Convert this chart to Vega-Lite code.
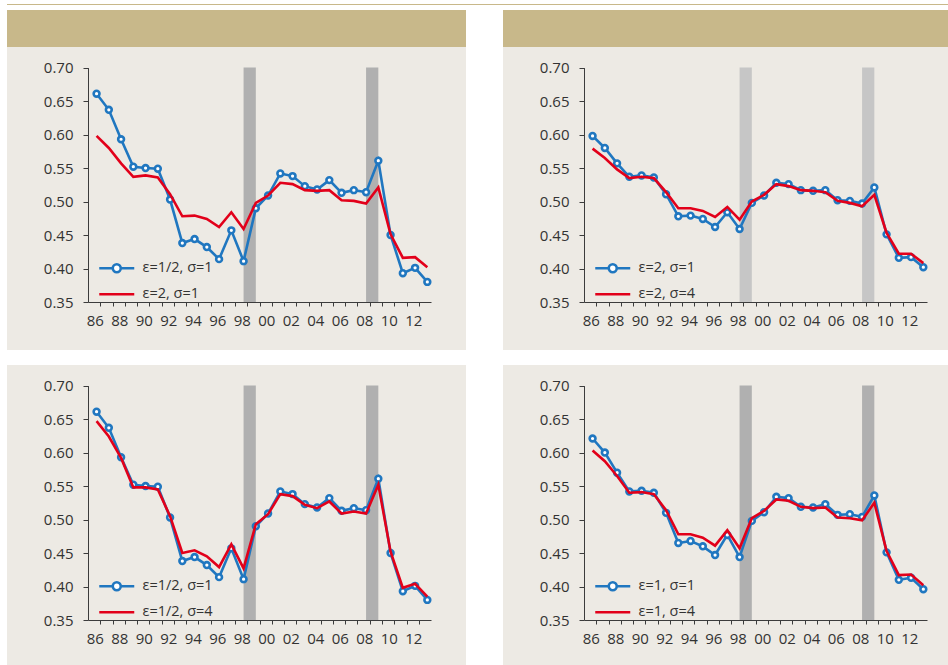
{
  "$schema": "https://vega.github.io/schema/vega-lite/v6.json",
  "background": "white",
  "padding": {"left": 7, "top": 4, "right": 0, "bottom": 0},
  "config": {
    "view": {"stroke": null},
    "font": "Open Sans",
    "axis": {"labelFont": "Open Sans", "labelFontSize": 15, "labelColor": "#333333", "domainColor": "#3c3c3c", "tickColor": "#3c3c3c", "domainWidth": 1, "tickWidth": 1, "grid": false, "title": null},
    "legend": {"labelFont": "Open Sans", "labelFontSize": 14.5, "labelColor": "#333333"}
  },
  "resolve": {"scale": {"color": "independent"}, "legend": {"color": "independent"}},
  "datasets": {
    "rec": [{"s": 1998, "e": 1999}, {"s": 2008, "e": 2009}],
    "p1": [
      {"t":1986,"a":0.661,"b":0.598},{"t":1987,"a":0.637,"b":0.580},{"t":1988,"a":0.593,"b":0.557},{"t":1989,"a":0.552,"b":0.537},
      {"t":1990,"a":0.550,"b":0.539},{"t":1991,"a":0.549,"b":0.536},{"t":1992,"a":0.503,"b":0.511},{"t":1993,"a":0.438,"b":0.478},
      {"t":1994,"a":0.444,"b":0.479},{"t":1995,"a":0.432,"b":0.474},{"t":1996,"a":0.414,"b":0.462},{"t":1997,"a":0.457,"b":0.484},
      {"t":1998,"a":0.411,"b":0.459},{"t":1999,"a":0.490,"b":0.498},{"t":2000,"a":0.509,"b":0.509},{"t":2001,"a":0.542,"b":0.528},
      {"t":2002,"a":0.538,"b":0.526},{"t":2003,"a":0.523,"b":0.517},{"t":2004,"a":0.518,"b":0.516},{"t":2005,"a":0.532,"b":0.517},
      {"t":2006,"a":0.513,"b":0.502},{"t":2007,"a":0.517,"b":0.501},{"t":2008,"a":0.514,"b":0.497},{"t":2009,"a":0.561,"b":0.521},
      {"t":2010,"a":0.450,"b":0.451},{"t":2011,"a":0.393,"b":0.416},{"t":2012,"a":0.401,"b":0.417},{"t":2013,"a":0.380,"b":0.402}
    ],
    "p2": [
      {"t":1986,"a":0.598,"b":0.579},{"t":1987,"a":0.580,"b":0.565},{"t":1988,"a":0.557,"b":0.548},{"t":1989,"a":0.537,"b":0.535},
      {"t":1990,"a":0.539,"b":0.537},{"t":1991,"a":0.536,"b":0.535},{"t":1992,"a":0.511,"b":0.514},{"t":1993,"a":0.478,"b":0.490},
      {"t":1994,"a":0.479,"b":0.490},{"t":1995,"a":0.474,"b":0.486},{"t":1996,"a":0.462,"b":0.477},{"t":1997,"a":0.484,"b":0.492},
      {"t":1998,"a":0.459,"b":0.473},{"t":1999,"a":0.498,"b":0.500},{"t":2000,"a":0.509,"b":0.510},{"t":2001,"a":0.528,"b":0.526},
      {"t":2002,"a":0.526,"b":0.523},{"t":2003,"a":0.517,"b":0.517},{"t":2004,"a":0.516,"b":0.516},{"t":2005,"a":0.517,"b":0.514},
      {"t":2006,"a":0.502,"b":0.501},{"t":2007,"a":0.501,"b":0.498},{"t":2008,"a":0.497,"b":0.493},{"t":2009,"a":0.521,"b":0.510},
      {"t":2010,"a":0.451,"b":0.453},{"t":2011,"a":0.416,"b":0.422},{"t":2012,"a":0.417,"b":0.422},{"t":2013,"a":0.402,"b":0.408}
    ],
    "p3": [
      {"t":1986,"a":0.661,"b":0.647},{"t":1987,"a":0.637,"b":0.624},{"t":1988,"a":0.593,"b":0.592},{"t":1989,"a":0.552,"b":0.548},
      {"t":1990,"a":0.550,"b":0.548},{"t":1991,"a":0.549,"b":0.545},{"t":1992,"a":0.503,"b":0.505},{"t":1993,"a":0.438,"b":0.450},
      {"t":1994,"a":0.444,"b":0.454},{"t":1995,"a":0.432,"b":0.445},{"t":1996,"a":0.414,"b":0.429},{"t":1997,"a":0.457,"b":0.463},
      {"t":1998,"a":0.411,"b":0.427},{"t":1999,"a":0.490,"b":0.493},{"t":2000,"a":0.509,"b":0.508},{"t":2001,"a":0.542,"b":0.538},
      {"t":2002,"a":0.538,"b":0.535},{"t":2003,"a":0.523,"b":0.522},{"t":2004,"a":0.518,"b":0.517},{"t":2005,"a":0.532,"b":0.527},
      {"t":2006,"a":0.513,"b":0.509},{"t":2007,"a":0.517,"b":0.512},{"t":2008,"a":0.514,"b":0.509},{"t":2009,"a":0.561,"b":0.552},
      {"t":2010,"a":0.450,"b":0.452},{"t":2011,"a":0.393,"b":0.398},{"t":2012,"a":0.401,"b":0.404},{"t":2013,"a":0.380,"b":0.385}
    ],
    "p4": [
      {"t":1986,"a":0.621,"b":0.603},{"t":1987,"a":0.600,"b":0.587},{"t":1988,"a":0.570,"b":0.565},{"t":1989,"a":0.542,"b":0.540},
      {"t":1990,"a":0.543,"b":0.541},{"t":1991,"a":0.540,"b":0.538},{"t":1992,"a":0.510,"b":0.514},{"t":1993,"a":0.465,"b":0.478},
      {"t":1994,"a":0.468,"b":0.478},{"t":1995,"a":0.460,"b":0.473},{"t":1996,"a":0.447,"b":0.461},{"t":1997,"a":0.477,"b":0.484},
      {"t":1998,"a":0.444,"b":0.457},{"t":1999,"a":0.498,"b":0.502},{"t":2000,"a":0.511,"b":0.513},{"t":2001,"a":0.534,"b":0.530},
      {"t":2002,"a":0.532,"b":0.528},{"t":2003,"a":0.519,"b":0.519},{"t":2004,"a":0.518,"b":0.517},{"t":2005,"a":0.523,"b":0.518},
      {"t":2006,"a":0.507,"b":0.503},{"t":2007,"a":0.508,"b":0.502},{"t":2008,"a":0.504,"b":0.499},{"t":2009,"a":0.536,"b":0.525},
      {"t":2010,"a":0.451,"b":0.453},{"t":2011,"a":0.410,"b":0.417},{"t":2012,"a":0.413,"b":0.418},{"t":2013,"a":0.396,"b":0.402}
    ]
  },
  "vconcat": [
    {
      "width": 941, "height": 1,
      "view": {"fill": "#c8b88a", "stroke": null},
      "data": {"values": [{}]},
      "mark": {"type": "point", "size": 0, "opacity": 0},
      "encoding": {}
    },
    {
      "resolve": {"scale": {"color": "independent"}, "legend": {"color": "independent"}},
      "vconcat": [
        {
          "resolve": {"scale": {"color": "independent"}, "legend": {"color": "independent"}},
          "hconcat": [
            {
              "vconcat": [
                {
                  "width": 459, "height": 37,
                  "view": {"fill": "#c8b88a", "stroke": null},
                  "data": {"values": [{}]},
                  "mark": {"type": "point", "size": 0, "opacity": 0},
                  "encoding": {}
                },
                {
                  "width": 459, "height": 303,
                  "view": {"fill": "#edeae4", "stroke": null},
                  "data": {"name": "p1"},
                  "layer": [
                    {
                      "data": {"name": "rec"},
                      "mark": {"type": "rect", "color": "#b0b0b0"},
                      "encoding": {
                        "x": {"field": "s", "type": "quantitative", "scale": {"domain": [1985.3, 2013.3], "range": [81, 424], "nice": false, "zero": false},
                          "axis": {"values": [1986.3,1987.3,1988.3,1989.3,1990.3,1991.3,1992.3,1993.3,1994.3,1995.3,1996.3,1997.3,1998.3,1999.3,2000.3,2001.3,2002.3,2003.3,2004.3,2005.3,2006.3,2007.3,2008.3,2009.3,2010.3,2011.3,2012.3],
                            "tickCount": 100,
                            "labelExpr": "round(datum.value - 0.3) % 2 == 0 ? slice(toString(round(datum.value - 0.3)), 2) : ''",
                            "labelOffset": -5.5, "labelOverlap": false, "labelFlush": false, "labelBound": false, "tickSize": 4, "labelPadding": 7, "offset": -48}},
                        "x2": {"field": "e"},
                        "y": {"datum": 0.35, "type": "quantitative", "scale": {"domain": [0.35, 0.70], "range": [255, 20.6], "nice": false, "zero": false},
                          "axis": {"values": [0.35,0.40,0.45,0.50,0.55,0.60,0.65,0.70], "tickCount": 20, "format": ".2f", "offset": -81, "tickSize": 5, "labelPadding": 10}},
                        "y2": {"datum": 0.70}
                      }
                    },
                    {
                      "mark": {"type": "line", "strokeWidth": 2.6},
                      "encoding": {
                        "x": {"field": "t", "type": "quantitative"},
                        "y": {"field": "a", "type": "quantitative"},
                        "color": {"datum": "ε=1/2, σ=1", "type": "nominal",
                          "scale": {"domain": ["ε=1/2, σ=1", "ε=2, σ=1"], "range": ["#2077c0", "#e2001a"]},
                          "legend": {"orient": "none", "legendX": 115, "legendY": 251, "title": null, "symbolSize": 100, "symbolStrokeWidth": 2.6, "labelOffset": 6, "rowPadding": 8,
                            "encode": {"symbols": {"update": {
                              "shape": {"signal": "datum.index === 0 ? 'M-6,0H-3.3M-1.7,0H1M-3.3,0A0.8,0.8 0 1,0 -1.7,0A0.8,0.8 0 1,0 -3.3,0' : 'M-6,0H1'"},
                              "fill": {"signal": "datum.index === 0 ? 'white' : 'transparent'"}}}}}}
                      }
                    },
                    {
                      "mark": {"type": "point", "filled": true, "fill": "white", "stroke": "#2077c0", "strokeWidth": 2.6, "size": 34, "opacity": 1},
                      "encoding": {"x": {"field": "t", "type": "quantitative"}, "y": {"field": "a", "type": "quantitative"}}
                    },
                    {
                      "mark": {"type": "line", "strokeWidth": 2.6},
                      "encoding": {
                        "x": {"field": "t", "type": "quantitative"},
                        "y": {"field": "b", "type": "quantitative"},
                        "color": {"datum": "ε=2, σ=1", "type": "nominal"}
                      }
                    }
                  ]
                }
              ],
              "spacing": 0
            },
            {
              "vconcat": [
                {
                  "width": 445, "height": 37,
                  "view": {"fill": "#c8b88a", "stroke": null},
                  "data": {"values": [{}]},
                  "mark": {"type": "point", "size": 0, "opacity": 0},
                  "encoding": {}
                },
                {
                  "width": 445, "height": 303,
                  "view": {"fill": "#edeae4", "stroke": null},
                  "data": {"name": "p2"},
                  "layer": [
                    {
                      "data": {"name": "rec"},
                      "mark": {"type": "rect", "color": "#c6c6c6"},
                      "encoding": {
                        "x": {"field": "s", "type": "quantitative", "scale": {"domain": [1985.3, 2013.3], "range": [81, 424], "nice": false, "zero": false},
                          "axis": {"values": [1986.3,1987.3,1988.3,1989.3,1990.3,1991.3,1992.3,1993.3,1994.3,1995.3,1996.3,1997.3,1998.3,1999.3,2000.3,2001.3,2002.3,2003.3,2004.3,2005.3,2006.3,2007.3,2008.3,2009.3,2010.3,2011.3,2012.3],
                            "tickCount": 100,
                            "labelExpr": "round(datum.value - 0.3) % 2 == 0 ? slice(toString(round(datum.value - 0.3)), 2) : ''",
                            "labelOffset": -5.5, "labelOverlap": false, "labelFlush": false, "labelBound": false, "tickSize": 4, "labelPadding": 7, "offset": -48}},
                        "x2": {"field": "e"},
                        "y": {"datum": 0.35, "type": "quantitative", "scale": {"domain": [0.35, 0.70], "range": [255, 20.6], "nice": false, "zero": false},
                          "axis": {"values": [0.35,0.40,0.45,0.50,0.55,0.60,0.65,0.70], "tickCount": 20, "format": ".2f", "offset": -81, "tickSize": 5, "labelPadding": 10}},
                        "y2": {"datum": 0.70}
                      }
                    },
                    {
                      "mark": {"type": "line", "strokeWidth": 2.6},
                      "encoding": {
                        "x": {"field": "t", "type": "quantitative"},
                        "y": {"field": "a", "type": "quantitative"},
                        "color": {"datum": "ε=2, σ=1", "type": "nominal",
                          "scale": {"domain": ["ε=2, σ=1", "ε=2, σ=4"], "range": ["#2077c0", "#e2001a"]},
                          "legend": {"orient": "none", "legendX": 115, "legendY": 251, "title": null, "symbolSize": 100, "symbolStrokeWidth": 2.6, "labelOffset": 6, "rowPadding": 8,
                            "encode": {"symbols": {"update": {
                              "shape": {"signal": "datum.index === 0 ? 'M-6,0H-3.3M-1.7,0H1M-3.3,0A0.8,0.8 0 1,0 -1.7,0A0.8,0.8 0 1,0 -3.3,0' : 'M-6,0H1'"},
                              "fill": {"signal": "datum.index === 0 ? 'white' : 'transparent'"}}}}}}
                      }
                    },
                    {
                      "mark": {"type": "point", "filled": true, "fill": "white", "stroke": "#2077c0", "strokeWidth": 2.6, "size": 34, "opacity": 1},
                      "encoding": {"x": {"field": "t", "type": "quantitative"}, "y": {"field": "a", "type": "quantitative"}}
                    },
                    {
                      "mark": {"type": "line", "strokeWidth": 2.6},
                      "encoding": {
                        "x": {"field": "t", "type": "quantitative"},
                        "y": {"field": "b", "type": "quantitative"},
                        "color": {"datum": "ε=2, σ=4", "type": "nominal"}
                      }
                    }
                  ]
                }
              ],
              "spacing": 0
            }
          ],
          "spacing": 37
        },
        {
          "resolve": {"scale": {"color": "independent"}, "legend": {"color": "independent"}},
          "hconcat": [
            {
              "width": 459, "height": 300,
              "view": {"fill": "#edeae4", "stroke": null},
              "data": {"name": "p3"},
              "layer": [
                {
                  "data": {"name": "rec"},
                  "mark": {"type": "rect", "color": "#b0b0b0"},
                  "encoding": {
                    "x": {"field": "s", "type": "quantitative", "scale": {"domain": [1985.3, 2013.3], "range": [81, 424], "nice": false, "zero": false},
                      "axis": {"values": [1986.3,1987.3,1988.3,1989.3,1990.3,1991.3,1992.3,1993.3,1994.3,1995.3,1996.3,1997.3,1998.3,1999.3,2000.3,2001.3,2002.3,2003.3,2004.3,2005.3,2006.3,2007.3,2008.3,2009.3,2010.3,2011.3,2012.3],
                        "tickCount": 100,
                        "labelExpr": "round(datum.value - 0.3) % 2 == 0 ? slice(toString(round(datum.value - 0.3)), 2) : ''",
                        "labelOffset": -5.5, "labelOverlap": false, "labelFlush": false, "labelBound": false, "tickSize": 4, "labelPadding": 7, "offset": -45}},
                    "x2": {"field": "e"},
                    "y": {"datum": 0.35, "type": "quantitative", "scale": {"domain": [0.35, 0.70], "range": [255, 20.6], "nice": false, "zero": false},
                      "axis": {"values": [0.35,0.40,0.45,0.50,0.55,0.60,0.65,0.70], "tickCount": 20, "format": ".2f", "offset": -81, "tickSize": 5, "labelPadding": 10}},
                    "y2": {"datum": 0.70}
                  }
                },
                {
                  "mark": {"type": "line", "strokeWidth": 2.6},
                  "encoding": {
                    "x": {"field": "t", "type": "quantitative"},
                    "y": {"field": "a", "type": "quantitative"},
                    "color": {"datum": "ε=1/2, σ=1", "type": "nominal",
                      "scale": {"domain": ["ε=1/2, σ=1", "ε=1/2, σ=4"], "range": ["#2077c0", "#e2001a"]},
                      "legend": {"orient": "none", "legendX": 115, "legendY": 214, "title": null, "symbolSize": 100, "symbolStrokeWidth": 2.6, "labelOffset": 6, "rowPadding": 8,
                        "encode": {"symbols": {"update": {
                          "shape": {"signal": "datum.index === 0 ? 'M-6,0H-3.3M-1.7,0H1M-3.3,0A0.8,0.8 0 1,0 -1.7,0A0.8,0.8 0 1,0 -3.3,0' : 'M-6,0H1'"},
                          "fill": {"signal": "datum.index === 0 ? 'white' : 'transparent'"}}}}}}
                  }
                },
                {
                  "mark": {"type": "point", "filled": true, "fill": "white", "stroke": "#2077c0", "strokeWidth": 2.6, "size": 34, "opacity": 1},
                  "encoding": {"x": {"field": "t", "type": "quantitative"}, "y": {"field": "a", "type": "quantitative"}}
                },
                {
                  "mark": {"type": "line", "strokeWidth": 2.6},
                  "encoding": {
                    "x": {"field": "t", "type": "quantitative"},
                    "y": {"field": "b", "type": "quantitative"},
                    "color": {"datum": "ε=1/2, σ=4", "type": "nominal"}
                  }
                }
              ]
            },
            {
              "width": 445, "height": 300,
              "view": {"fill": "#edeae4", "stroke": null},
              "data": {"name": "p4"},
              "layer": [
                {
                  "data": {"name": "rec"},
                  "mark": {"type": "rect", "color": "#b0b0b0"},
                  "encoding": {
                    "x": {"field": "s", "type": "quantitative", "scale": {"domain": [1985.3, 2013.3], "range": [81, 424], "nice": false, "zero": false},
                      "axis": {"values": [1986.3,1987.3,1988.3,1989.3,1990.3,1991.3,1992.3,1993.3,1994.3,1995.3,1996.3,1997.3,1998.3,1999.3,2000.3,2001.3,2002.3,2003.3,2004.3,2005.3,2006.3,2007.3,2008.3,2009.3,2010.3,2011.3,2012.3],
                        "tickCount": 100,
                        "labelExpr": "round(datum.value - 0.3) % 2 == 0 ? slice(toString(round(datum.value - 0.3)), 2) : ''",
                        "labelOffset": -5.5, "labelOverlap": false, "labelFlush": false, "labelBound": false, "tickSize": 4, "labelPadding": 7, "offset": -45}},
                    "x2": {"field": "e"},
                    "y": {"datum": 0.35, "type": "quantitative", "scale": {"domain": [0.35, 0.70], "range": [255, 20.6], "nice": false, "zero": false},
                      "axis": {"values": [0.35,0.40,0.45,0.50,0.55,0.60,0.65,0.70], "tickCount": 20, "format": ".2f", "offset": -81, "tickSize": 5, "labelPadding": 10}},
                    "y2": {"datum": 0.70}
                  }
                },
                {
                  "mark": {"type": "line", "strokeWidth": 2.6},
                  "encoding": {
                    "x": {"field": "t", "type": "quantitative"},
                    "y": {"field": "a", "type": "quantitative"},
                    "color": {"datum": "ε=1, σ=1", "type": "nominal",
                      "scale": {"domain": ["ε=1, σ=1", "ε=1, σ=4"], "range": ["#2077c0", "#e2001a"]},
                      "legend": {"orient": "none", "legendX": 115, "legendY": 214, "title": null, "symbolSize": 100, "symbolStrokeWidth": 2.6, "labelOffset": 6, "rowPadding": 8,
                        "encode": {"symbols": {"update": {
                          "shape": {"signal": "datum.index === 0 ? 'M-6,0H-3.3M-1.7,0H1M-3.3,0A0.8,0.8 0 1,0 -1.7,0A0.8,0.8 0 1,0 -3.3,0' : 'M-6,0H1'"},
                          "fill": {"signal": "datum.index === 0 ? 'white' : 'transparent'"}}}}}}
                  }
                },
                {
                  "mark": {"type": "point", "filled": true, "fill": "white", "stroke": "#2077c0", "strokeWidth": 2.6, "size": 34, "opacity": 1},
                  "encoding": {"x": {"field": "t", "type": "quantitative"}, "y": {"field": "a", "type": "quantitative"}}
                },
                {
                  "mark": {"type": "line", "strokeWidth": 2.6},
                  "encoding": {
                    "x": {"field": "t", "type": "quantitative"},
                    "y": {"field": "b", "type": "quantitative"},
                    "color": {"datum": "ε=1, σ=4", "type": "nominal"}
                  }
                }
              ]
            }
          ],
          "spacing": 37
        }
      ],
      "spacing": 15
    }
  ],
  "spacing": 5
}
